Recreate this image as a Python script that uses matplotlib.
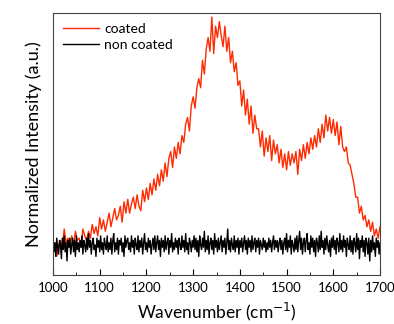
import numpy as np
import matplotlib.pyplot as plt
from matplotlib.ticker import MultipleLocator

plt.rcParams['font.family'] = ['Lato', 'DejaVu Sans']

# Raman shift grids (cm^-1)
wn_coated = np.arange(1000, 1701, 4)
wn_non_coated = np.arange(1000, 1701, 2)

# coated sample - D band ~1340, G band ~1590
coated = [
    -0.02, 0.01, -0.05, 0.00, 0.02, -0.01, 0.07, 0.01, 0.03, -0.01,
    0.04, 0.00, 0.06, 0.02, 0.03, -0.01, 0.07, 0.04, 0.02, 0.06,
    0.03, 0.09, 0.05, 0.08, 0.04, 0.12, 0.07, 0.11, 0.06, 0.10,
    0.14, 0.08, 0.12, 0.16, 0.11, 0.13, 0.17, 0.10, 0.19, 0.14,
    0.20, 0.14, 0.18, 0.21, 0.16, 0.22, 0.17, 0.15, 0.24, 0.19,
    0.25, 0.20, 0.27, 0.22, 0.29, 0.24, 0.31, 0.26, 0.33, 0.28,
    0.36, 0.30, 0.38, 0.41, 0.34, 0.43, 0.38, 0.45, 0.40, 0.48,
    0.45, 0.53, 0.56, 0.50, 0.61, 0.65, 0.60, 0.69, 0.73, 0.69,
    0.81, 0.75, 0.86, 0.91, 0.85, 1.00, 0.84, 0.96, 0.91, 0.98,
    0.92, 0.87, 0.96, 0.85, 0.91, 0.80, 0.85, 0.76, 0.80, 0.70,
    0.72, 0.61, 0.68, 0.57, 0.64, 0.53, 0.61, 0.49, 0.57, 0.51,
    0.51, 0.43, 0.50, 0.39, 0.47, 0.41, 0.48, 0.37, 0.46, 0.40,
    0.44, 0.36, 0.42, 0.34, 0.40, 0.33, 0.41, 0.35, 0.40, 0.36,
    0.41, 0.31, 0.42, 0.37, 0.44, 0.38, 0.45, 0.40, 0.47, 0.42,
    0.48, 0.43, 0.51, 0.45, 0.53, 0.47, 0.57, 0.50, 0.56, 0.49,
    0.55, 0.48, 0.54, 0.44, 0.52, 0.43, 0.41, 0.43, 0.36, 0.35,
    0.31, 0.27, 0.21, 0.21, 0.14, 0.17, 0.11, 0.13, 0.08, 0.11,
    0.06, 0.10, 0.04, 0.07, 0.03,
    0.08,
]

# non coated sample - flat noisy baseline
non_coated = [
    0.02, -0.03, 0.01, -0.05, 0.03, -0.01, -0.04, 0.02, 0.00, -0.06,
    0.03, -0.02, 0.04, -0.03, 0.01, -0.07, 0.02, -0.01, 0.03, -0.04,
    0.00, 0.03, -0.03, 0.02, -0.05, 0.04, -0.02, 0.01, -0.03, 0.02,
    -0.01, 0.04, -0.04, 0.02, 0.00, -0.03, 0.03, -0.02, 0.05, -0.01,
    0.02, -0.04, 0.01, 0.03, -0.02, 0.00, -0.05, 0.03, -0.01, 0.02,
    -0.03, 0.04, -0.02, 0.01, -0.04, 0.03, 0.00, -0.02, 0.04, -0.03,
    0.01, -0.02, 0.03, -0.04, 0.02, 0.05, -0.03, 0.01, -0.02, 0.03,
    -0.04, 0.02, 0.00, 0.03, -0.03, 0.01, -0.05, 0.04, -0.01, 0.02,
    0.03, -0.02, 0.01, -0.03, 0.04, -0.01, 0.02, -0.04, 0.03, 0.00,
    -0.02, 0.04, -0.03, 0.02, -0.01, 0.03, -0.04, 0.01, 0.05, -0.02,
    0.01, -0.03, 0.03, -0.01, 0.02, -0.04, 0.00, 0.03, -0.02, 0.04,
    -0.03, 0.01, 0.04, -0.02, 0.02, -0.05, 0.03, -0.01, 0.02, -0.03,
    0.04, -0.02, 0.01, 0.03, -0.04, 0.02, -0.01, 0.05, -0.03, 0.01,
    -0.02, 0.03, -0.01, 0.02, -0.04, 0.03, 0.00, -0.02, 0.04, -0.01,
    0.02, -0.03, 0.05, -0.02, 0.01, -0.04, 0.03, 0.01, -0.03, 0.02,
    -0.01, 0.04, -0.02, 0.03, -0.03, 0.02, -0.05, 0.04, 0.00, -0.02,
    0.03, -0.01, 0.06, -0.03, 0.02, -0.02, 0.04, -0.04, 0.01, 0.03,
    -0.02, 0.02, -0.04, 0.05, -0.01, 0.02, -0.03, 0.03, -0.02, 0.01,
    0.04, -0.03, 0.02, -0.01, 0.03, -0.04, 0.01, 0.07, -0.02, 0.02,
    -0.03, 0.03, 0.00, -0.02, 0.04, -0.03, 0.02, -0.01, 0.03, -0.04,
    0.02, -0.01, 0.03, -0.03, 0.01, 0.04, -0.02, 0.02, -0.04, 0.03,
    -0.01, 0.02, -0.03, 0.04, -0.02, 0.01, 0.03, -0.03, 0.02, -0.01,
    0.03, -0.04, 0.02, 0.00, -0.02, 0.03, -0.01, 0.02, -0.03, 0.01,
    -0.02, 0.03, -0.01, 0.02, -0.03, 0.01, 0.04, -0.02, 0.02, -0.01,
    0.02, -0.03, 0.01, 0.03, -0.02, 0.02, -0.04, 0.01, 0.03, -0.02,
    0.05, -0.03, 0.02, -0.01, 0.04, -0.04, 0.02, 0.00, -0.03, 0.03,
    -0.02, 0.04, -0.03, 0.02, 0.06, -0.02, 0.03, -0.04, 0.01, 0.03,
    -0.03, 0.02, 0.05, -0.02, 0.01, -0.04, 0.04, -0.01, 0.03, -0.03,
    0.02, -0.05, 0.03, 0.01, -0.03, 0.04, -0.02, 0.06, -0.01, 0.02,
    -0.04, 0.03, -0.02, 0.04, 0.00, -0.03, 0.02, -0.05, 0.03, -0.01,
    0.04, -0.02, 0.02, -0.04, 0.03, 0.01, -0.03, 0.05, -0.02, 0.02,
    -0.03, 0.04, -0.01, 0.02, -0.05, 0.03, 0.00, -0.02, 0.04, -0.03,
    0.02, -0.04, 0.03, 0.01, -0.03, 0.05, -0.02, 0.03, -0.06, 0.02,
    -0.01, 0.04, -0.03, 0.02, -0.05, 0.03, 0.01, -0.04, 0.03, -0.07,
    0.02, -0.03, 0.04, -0.02, 0.01, -0.05, 0.03, -0.01, 0.02, -0.04,
    0.01,
]

fig = plt.figure(figsize=(3.94, 3.24), dpi=100)
ax = fig.add_axes([0.1345, 0.151, 0.83, 0.809])

ax.plot(wn_coated, coated, color='#ff2a00', lw=1.0, label='coated')
ax.plot(wn_non_coated, non_coated, color='black', lw=1.0, label='non coated')

ax.set_xlim(1000, 1700)
ax.set_ylim(-0.132, 1.018)
ax.xaxis.set_major_locator(MultipleLocator(100))
ax.xaxis.set_minor_locator(MultipleLocator(50))
ax.tick_params(axis='x', which='both', direction='in', top=False, labelsize=9.5, pad=5)
ax.tick_params(axis='x', which='major', length=4)
ax.tick_params(axis='x', which='minor', length=2.5)
ax.set_yticks([])
for s in ax.spines.values():
    s.set_color('#444444')

ax.set_xlabel('Wavenumber (cm$^{-1}$)', fontsize=12.5, labelpad=5)
ax.set_ylabel('Normalized Intensity (a.u.)', fontsize=13, labelpad=8)

ax.legend(loc='upper left', frameon=False, fontsize=10, handlelength=2.6,
          handletextpad=0.4, borderaxespad=0.3, labelspacing=0.3)

fig.savefig('out.png', dpi=100)
